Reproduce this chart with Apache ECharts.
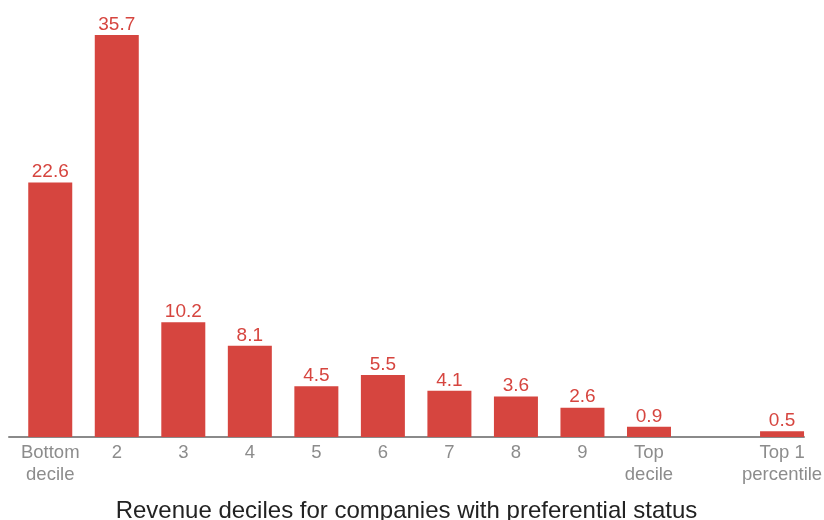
<!DOCTYPE html>
<html>
<head>
<meta charset="utf-8">
<script src="https://cdn.jsdelivr.net/npm/echarts@6/dist/echarts.min.js"></script>
<style>
  html, body { margin: 0; padding: 0; background: #fff; }
  #chart { width: 824px; height: 520px; }
</style>
</head>
<body>
<div id="chart"></div>
<script>
// Revenue decile groups; the empty slot separates the top percentile
const categories = ["Bottom\ndecile", "2", "3", "4", "5", "6", "7", "8", "9", "Top\ndecile", "", "Top 1\npercentile"];
const shares = [22.6, 35.7, 10.2, 8.1, 4.5, 5.5, 4.1, 3.6, 2.6, 0.9, null, 0.5];
const axisTitle = "Revenue deciles for companies with preferential status";

const slots = categories.map((c, i) => i).filter(i => categories[i] !== "");
const barData = slots.map(i => [i, shares[i]]);

const chart = echarts.init(document.getElementById('chart'));
chart.setOption({
  animation: false,
  grid: { left: 9, right: 20, top: 35, bottom: 83, outerBoundsMode: 'none', containLabel: false },
  xAxis: {
    type: 'value',
    min: -0.62,
    max: 11.33,
    splitLine: { show: false },
    axisLine: { show: true, lineStyle: { color: '#8a8a8a', width: 2 } },
    axisTick: { show: false },
    axisLabel: {
      customValues: slots,
      formatter: v => categories[Math.round(v)] || '',
      color: '#8c8c8c',
      fontFamily: 'Liberation Sans, Arial, sans-serif',
      fontSize: 18.5,
      lineHeight: 22,
      margin: 5,
      showMinLabel: true,
      showMaxLabel: true
    },
    name: axisTitle,
    nameLocation: 'middle',
    nameGap: 62,
    nameTextStyle: {
      color: '#222',
      fontFamily: 'Liberation Sans, Arial, sans-serif',
      fontSize: 24
    }
  },
  yAxis: {
    type: 'value',
    min: 0,
    max: 35.7,
    show: false
  },
  series: [{
    type: 'bar',
    data: barData,
    barWidth: 44,
    itemStyle: { color: '#d6453f' },
    label: {
      show: true,
      position: 'top',
      distance: 1,
      formatter: p => p.value[1].toFixed(1),
      color: '#d6453f',
      fontFamily: 'Liberation Sans, Arial, sans-serif',
      fontSize: 19
    }
  }]
});
</script>
</body>
</html>
